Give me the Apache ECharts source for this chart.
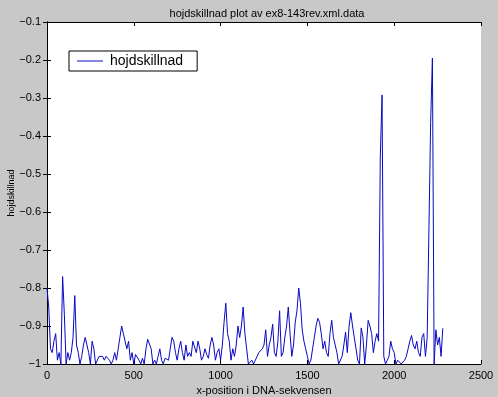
<!DOCTYPE html>
<html>
<head>
<meta charset="utf-8">
<script src="https://cdn.jsdelivr.net/npm/echarts@6/dist/echarts.min.js"></script>
<style>
  html, body { margin: 0; padding: 0; background: #c8c8c8; }
  #chart { width: 498px; height: 397px; }
</style>
</head>
<body>
<div id="chart"></div>
<script>
// sample spacing along the sequence
var xStep = 10;

// hojdskillnad, x = 0 .. 990
var hojdA = [
    -0.80, -0.85, -0.96, -0.97, -0.94, -0.92, -0.99, -0.97, -1.00, -0.77,
    -0.87, -1.00, -0.97, -0.99, -0.97, -0.93, -0.82, -0.95, -0.97, -1.00,
    -0.98, -0.95, -0.93, -0.93, -0.97, -1.00, -0.94, -0.96, -1.00, -1.00,
    -0.98, -0.975, -0.98, -0.99, -0.98, -0.985, -0.99, -1.00, -0.99, -0.97,
    -0.99, -0.96, -0.93, -0.90, -0.92, -0.92, -0.96, -0.94, -0.99, -0.97,
    -1.00, -0.975, -0.98, -0.99, -1.00, -0.985, -1.00, -0.96, -0.935, -0.94,
    -0.96, -1.00, -0.99, -1.00, -0.98, -0.96, -0.99, -1.00, -0.985, -0.98,
    -0.99, -0.96, -0.93, -0.94, -0.97, -0.99, -0.96, -0.94, -0.97, -0.99,
    -0.95, -0.98, -0.97, -0.98, -0.94, -0.935, -0.97, -0.94, -0.96, -0.99,
    -0.98, -0.96, -0.975, -0.985, -0.95, -0.93, -0.95, -0.99, -0.97, -0.96
];
// x = 1000 .. 1990
var hojdB = [
    -0.99, -0.95, -0.89, -0.84, -0.92, -0.94, -0.99, -0.96, -0.98, -0.95,
    -0.90, -0.93, -0.90, -0.85, -0.92, -0.96, -1.00, -1.00, -0.99, -1.00,
    -0.99, -0.98, -0.97, -0.97, -0.96, -0.95, -0.91, -0.98, -0.95, -0.93,
    -0.895, -0.97, -0.98, -0.94, -0.86, -0.98, -0.97, -0.93, -0.90, -0.85,
    -0.92, -0.98, -0.95, -0.89, -0.86, -0.80, -0.84, -0.91, -0.94, -0.96,
    -0.98, -1.00, -0.99, -0.96, -0.93, -0.90, -0.88, -0.89, -0.92, -0.96,
    -0.94, -0.97, -0.98, -0.92, -0.885, -0.93, -0.925, -0.97, -1.00, -1.00,
    -0.98, -0.95, -0.916, -0.97, -0.90, -0.865, -0.90, -0.93, -0.96, -0.99,
    -1.00, -0.905, -0.93, -1.00, -0.95, -0.885, -0.90, -0.92, -0.97, -0.94,
    -0.92, -0.94, -0.455, -0.292, -0.98, -1.00, -0.99, -0.98, -0.94, -0.96
];
// x = 2000 .. 2280
var hojdC = [
    -0.97, -1.00, -0.99, -0.995, -1.00, -0.995, -0.99, -0.98, -0.96, -0.94,
    -0.925, -0.95, -0.96, -0.94, -0.97, -0.98, -0.93, -0.92, -0.98, -0.93,
    -0.93, -0.365, -0.195, -1.00, -0.91, -0.95, -0.93, -0.98, -0.906
];

var lineColor = '#0808c4';
var fontName = 'Liberation Sans';

var hojd = hojdA.concat(hojdB, hojdC);
var points = hojd.map(function (v, i) {
    return [i * xStep, v];
});

function fmtY(v) {
    return String(Math.round(v * 10) / 10).replace('-', '\u2212');
}

function fmtX(v) {
    return String(v);
}

var axisLine = {show: true, lineStyle: {color: '#000', width: 1}};
var tick = {show: true, inside: true, length: 4, lineStyle: {color: '#000'}};

var chart = echarts.init(document.getElementById('chart'), null, {renderer: 'canvas'});
chart.setOption({
    backgroundColor: '#c8c8c8',
    animation: false,
    textStyle: {fontFamily: fontName},
    title: {
        text: 'hojdskillnad plot av ex8-143rev.xml.data',
        left: 262,
        top: 3,
        textAlign: 'center',
        textStyle: {fontSize: 11, fontWeight: 'normal', color: '#000', fontFamily: fontName}
    },
    legend: {
        data: [{name: 'hojdskillnad', icon: 'rect'}],
        left: 69,
        top: 51,
        orient: 'vertical',
        itemWidth: 26,
        itemHeight: 1,
        itemGap: 0,
        padding: [3, 14, 3, 8],
        backgroundColor: '#fff',
        borderColor: '#000',
        borderWidth: 1,
        borderRadius: 0,
        textStyle: {fontSize: 14, color: '#000', fontFamily: fontName, padding: [0, 0, 0, 2]}
    },
    grid: {
        left: 47,
        right: 17,
        top: 22,
        bottom: 33,
        outerBoundsMode: 'none',
        containLabel: false,
        show: true,
        backgroundColor: '#fff',
        borderWidth: 0
    },
    xAxis: [{
        type: 'value',
        min: 0,
        max: 2500,
        interval: 500,
        position: 'bottom',
        name: 'x-position i DNA-sekvensen',
        nameLocation: 'middle',
        nameGap: 16,
        nameTextStyle: {fontSize: 11, color: '#000', fontFamily: fontName},
        axisLine: axisLine,
        axisTick: tick,
        axisLabel: {margin: 6, fontSize: 11, color: '#000', formatter: fmtX},
        splitLine: {show: false}
    }, {
        type: 'value',
        min: 0,
        max: 2500,
        interval: 500,
        position: 'top',
        axisLine: axisLine,
        axisTick: tick,
        axisLabel: {show: false},
        splitLine: {show: false}
    }],
    yAxis: [{
        type: 'value',
        min: -1,
        max: -0.1,
        interval: 0.1,
        position: 'left',
        name: 'hojdskillnad',
        nameLocation: 'middle',
        nameGap: 31,
        nameMoveOverlap: false,
        nameRotate: 90,
        nameTextStyle: {fontSize: 9, color: '#000', fontFamily: fontName},
        axisLine: axisLine,
        axisTick: tick,
        axisLabel: {margin: 6, fontSize: 11, color: '#000', formatter: fmtY},
        splitLine: {show: false}
    }, {
        type: 'value',
        min: -1,
        max: -0.1,
        interval: 0.1,
        position: 'right',
        axisLine: axisLine,
        axisTick: tick,
        axisLabel: {show: false},
        splitLine: {show: false}
    }],
    series: [{
        name: 'hojdskillnad',
        type: 'line',
        xAxisIndex: 0,
        yAxisIndex: 0,
        symbol: 'none',
        color: lineColor,
        lineStyle: {width: 1, color: lineColor},
        data: points
    }]
});
</script>
</body>
</html>
